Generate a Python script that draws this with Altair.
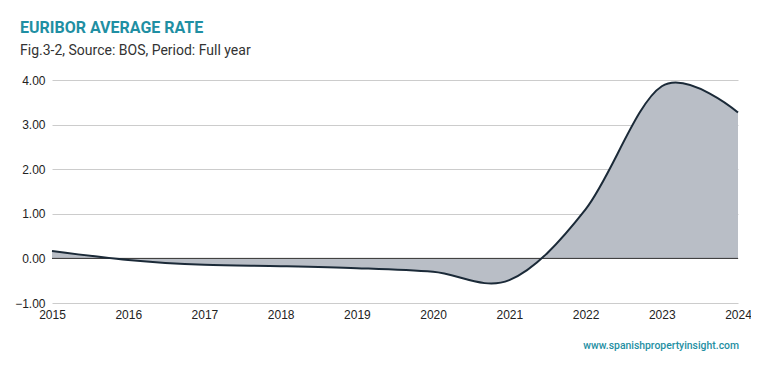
import altair as alt
import pandas as pd

years = [2015, 2016, 2017, 2018, 2019, 2020, 2021, 2022, 2023, 2024]
rates = [0.168, -0.034, -0.145, -0.174, -0.219, -0.301, -0.487, 1.10, 3.86, 3.27]
y_ticks = [-1, 0, 1, 2, 3, 4]

df = pd.DataFrame({"year": years, "rate": rates})

W, H = 686, 223

x = alt.X("year:Q", scale=alt.Scale(domain=[2015, 2024], nice=False, zero=False),
          axis=alt.Axis(values=years, format="d", title=None, grid=False, domain=False,
                        ticks=False, labelPadding=6, labelFont="Liberation Sans",
                        labelFontSize=12, labelColor="#222", labelFlush=False))
y = alt.Y("rate:Q", scale=alt.Scale(domain=[-1, 4], nice=False, zero=False),
          axis=alt.Axis(values=y_ticks, format=".2f", title=None, grid=True,
                        gridColor="#cccccc", gridWidth=1, domain=False, ticks=False,
                        labelPadding=7, labelFont="Liberation Sans", labelFontSize=12,
                        labelColor="#222"))

base = alt.Chart(df)

area = base.mark_area(interpolate="cardinal", tension=0, color="#b9bec6", opacity=1).encode(
    x=x, y=y, y2=alt.datum(0)
)
zero = alt.Chart(pd.DataFrame({"z": [0]})).mark_rule(color="#333333", strokeWidth=1).encode(
    y=alt.Y("z:Q", scale=alt.Scale(domain=[-1, 4]))
)
line = base.mark_line(interpolate="cardinal", tension=0, color="#1b2a38", strokeWidth=2).encode(
    x="year:Q", y="rate:Q"
)
footer = alt.Chart(pd.DataFrame({"t": ["www.spanishpropertyinsight.com"]})).mark_text(
    align="right", baseline="middle", font="Roboto", fontSize=10.4, fontWeight=500,
    color="#1f8fa3"
).encode(text="t:N", x=alt.value(W + 1), y=alt.value(266))

chart = alt.layer(area, zero, line, footer).properties(
    width=W, height=H,
    title=alt.TitleParams(
        text="EURIBOR AVERAGE RATE",
        subtitle="Fig.3-2, Source: BOS, Period: Full year",
        anchor="start", frame="group", dx=-32, offset=16,
        font="Roboto", fontSize=16, fontWeight="bold", color="#1f8fa3",
        subtitleFont="Roboto", subtitleFontSize=14, subtitleColor="#333333",
        subtitlePadding=8,
    ),
    autosize=alt.AutoSizeParams(type="none"),
    padding={"left": 44, "top": 72, "right": 13, "bottom": 60},
).configure_view(stroke=None)

chart.save("out.html", embed_options={"renderer": "svg", "actions": False})
